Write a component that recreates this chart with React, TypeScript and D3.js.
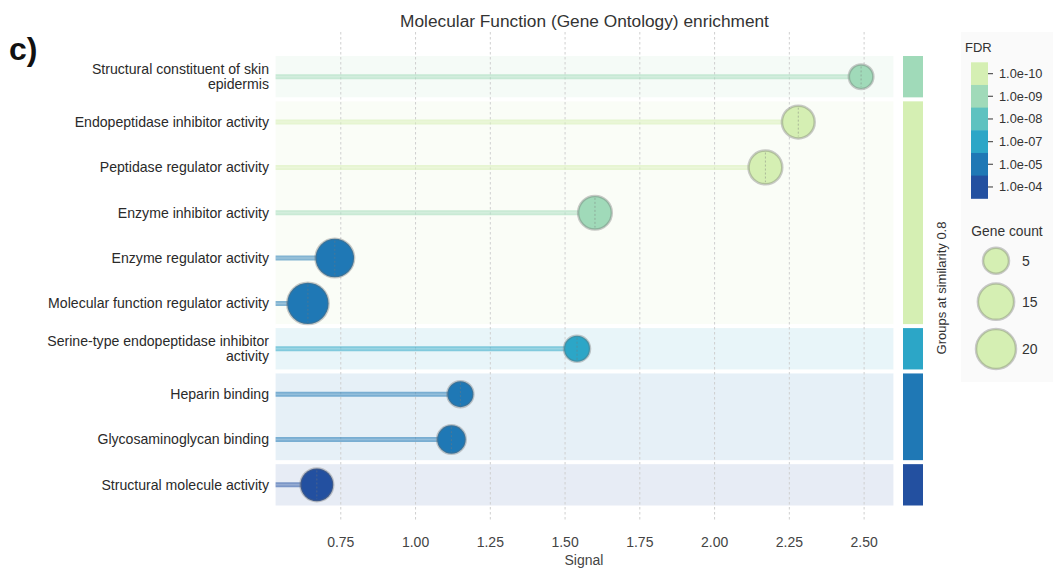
import React from "react";
import * as d3 from "d3";

const terms = [
  ["Structural constituent of skin", "epidermis"],
  ["Endopeptidase inhibitor activity"],
  ["Peptidase regulator activity"],
  ["Enzyme inhibitor activity"],
  ["Enzyme regulator activity"],
  ["Molecular function regulator activity"],
  ["Serine-type endopeptidase inhibitor", "activity"],
  ["Heparin binding"],
  ["Glycosaminoglycan binding"],
  ["Structural molecule activity"],
];
const signal = [2.49, 2.28, 2.17, 1.6, 0.73, 0.64, 1.54, 1.15, 1.12, 0.67];
const geneCount = [4, 11, 12, 12, 18, 22, 5, 5, 7, 11];
const fdr = ["1.0e-09", "1.0e-10", "1.0e-10", "1.0e-09", "1.0e-05", "1.0e-05", "1.0e-07", "1.0e-05", "1.0e-05", "1.0e-04"];
const groupOf = [0, 1, 1, 1, 1, 1, 2, 3, 3, 4];
const groupColors = ["#a0dab9", "#d5efb3", "#2ca6c7", "#1f78b5", "#2350a0"];
const fdrTicks = ["1.0e-10", "1.0e-09", "1.0e-08", "1.0e-07", "1.0e-05", "1.0e-04"];
const fdrColors = ["#d5efb3", "#a0dab9", "#5ec2c0", "#2ca6c7", "#1f78b5", "#2350a0"];
const xTicks = [0.75, 1.0, 1.25, 1.5, 1.75, 2.0, 2.25, 2.5];
const legendCounts = [5, 15, 20];

const FONT = "'Liberation Sans', Arial, Helvetica, sans-serif";

export default function App() {
  const W = 1053, H = 571;
  const x = d3.scaleLinear().domain([0.532, 2.598]).range([275.6, 893.4]);
  const idx = terms.map((_, i) => String(i));
  const y = d3.scaleBand().domain(idx).range([54, 507.5]).paddingInner(0);
  const step = y.step();
  const r = d3.scalePow().exponent(0.5).domain([5, 20]).range([13, 20]);
  const col = d3.scaleOrdinal<string, string>().domain(fdrTicks).range(fdrColors);

  const groups = d3.groups(idx.map(Number), (i) => groupOf[i]).map(([g, rows]) => ({
    g,
    y0: (y(String(rows[0])) as number) + 2,
    y1: (y(String(rows[rows.length - 1])) as number) + step - 2,
  }));

  const cbY = d3.scaleBand().domain(fdrTicks).range([62.3, 198.3]);

  return (
    <svg width={W} height={H} style={{ position: "absolute", left: 0, top: 0, fontFamily: FONT }}>
      <rect width={W} height={H} fill="#fff" />
      <text x={9} y={60} fontSize={32} fontWeight="bold" fill="#111">c)</text>
      <text x={584.5} y={27} fontSize={17.3} textAnchor="middle" fill="#333">Molecular Function (Gene Ontology) enrichment</text>

      {/* group backgrounds */}
      {groups.map((gr) => (
        <rect key={gr.g} x={x.range()[0]} y={gr.y0} width={x.range()[1] - x.range()[0]} height={gr.y1 - gr.y0}
          fill={groupColors[gr.g]} fillOpacity={0.11} />
      ))}

      {/* grid */}
      {xTicks.map((t) => (
        <line key={t} x1={x(t)} x2={x(t)} y1={32} y2={522} stroke="#cfcfcf" strokeDasharray="2.5,2.5" strokeWidth={1} />
      ))}

      {/* side group bars */}
      {groups.map((gr) => (
        <rect key={"s" + gr.g} x={903} y={gr.y0} width={20} height={gr.y1 - gr.y0} fill={groupColors[gr.g]} />
      ))}

      {/* lollipops */}
      {idx.map((k, i) => {
        const cy = (y(k) as number) + step / 2;
        const cx = x(signal[i]);
        const c = col(fdr[i]);
        const rr = r(geneCount[i]);
        return (
          <g key={k}>
            <line x1={x.range()[0]} x2={cx} y1={cy} y2={cy} stroke={c} strokeWidth={5} strokeOpacity={0.55} />
            <line x1={x.range()[0]} x2={cx} y1={cy} y2={cy} stroke="#fff" strokeWidth={1.5} strokeOpacity={0.2} />
            <circle cx={cx} cy={cy} r={rr} fill={c} stroke="#6a6a6a" strokeOpacity={0.35} strokeWidth={2.5} />
            <line x1={cx} x2={cx} y1={cy - rr + 2} y2={cy + rr - 2} stroke="#777" strokeOpacity={0.45} strokeDasharray="2,2" />
          </g>
        );
      })}

      {/* y labels */}
      {terms.map((lines, i) => {
        const cy = (y(String(i)) as number) + step / 2;
        const lh = 15;
        const top = cy - ((lines.length - 1) * lh) / 2;
        return (
          <text key={i} textAnchor="end" fontSize={14.1} fill="#2a2a2a">
            {lines.map((ln, j) => (
              <tspan key={j} x={269} y={top + j * lh} dy="0.35em">{ln}</tspan>
            ))}
          </text>
        );
      })}

      {/* x axis */}
      {xTicks.map((t) => (
        <text key={"t" + t} x={x(t)} y={547} fontSize={14} textAnchor="middle" fill="#444">{d3.format(".2f")(t)}</text>
      ))}
      <text x={584} y={565} fontSize={14} textAnchor="middle" fill="#444">Signal</text>

      <text transform={`translate(946,288) rotate(-90)`} fontSize={13} textAnchor="middle" fill="#333">Groups at similarity 0.8</text>

      {/* legend */}
      <rect x={961} y={32} width={92} height={350} fill="#fafafa" />
      <text x={965} y={52} fontSize={13} fill="#333">FDR</text>
      {fdrTicks.map((t) => {
        const yy = cbY(t) as number;
        return (
          <g key={t}>
            <rect x={971} y={yy} width={17} height={cbY.bandwidth() + 0.5} fill={col(t)} />
            <line x1={988} x2={993} y1={yy + cbY.bandwidth() / 2} y2={yy + cbY.bandwidth() / 2} stroke="#555" strokeWidth={1.2} />
            <text x={999} y={yy + cbY.bandwidth() / 2} dy="0.35em" fontSize={12.8} fill="#333">{t}</text>
          </g>
        );
      })}
      <text x={1007} y={236} fontSize={13.8} textAnchor="middle" fill="#333">Gene count</text>
      {legendCounts.map((n, i) => {
        const cy = [260.7, 301.7, 349][i];
        return (
          <g key={n}>
            <circle cx={996} cy={cy} r={r(n)} fill="#d5efb3" stroke="#6a6a6a" strokeOpacity={0.35} strokeWidth={2.5} />
            <text x={1022} y={cy} dy="0.35em" fontSize={14} fill="#333">{n}</text>
          </g>
        );
      })}
    </svg>
  );
}
